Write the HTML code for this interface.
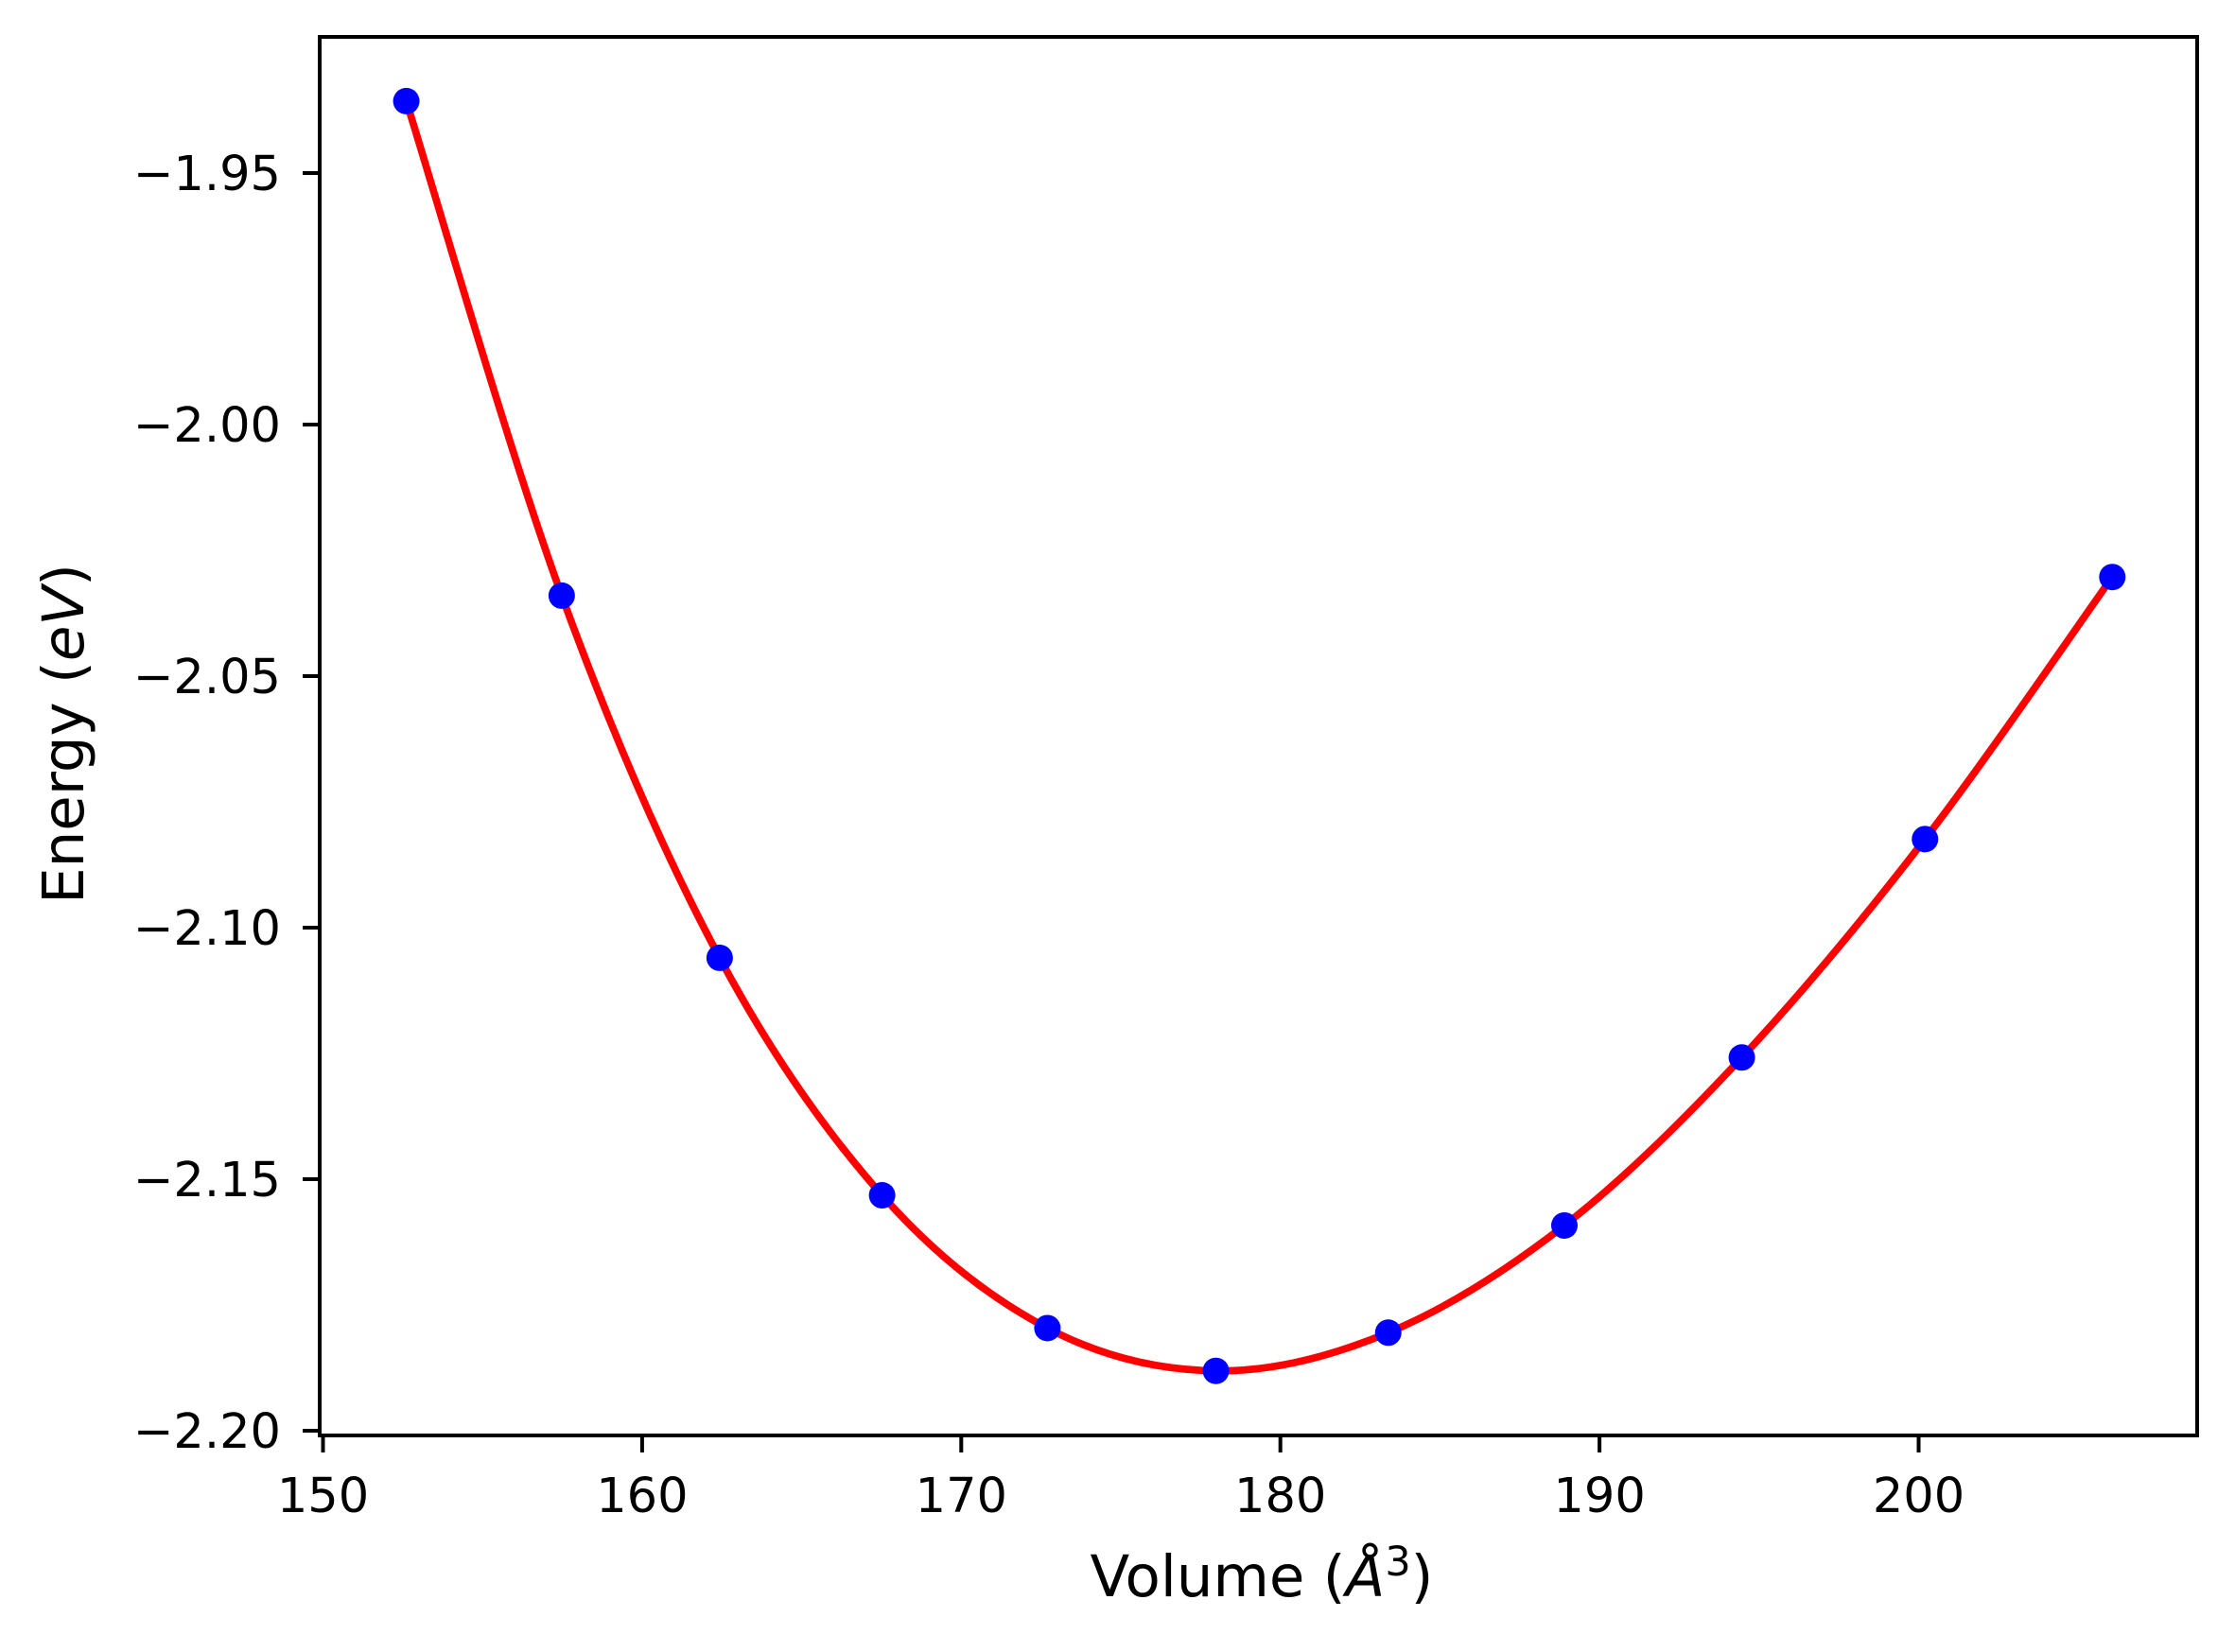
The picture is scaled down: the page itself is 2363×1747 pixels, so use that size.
<!DOCTYPE html>
<html><head><meta charset="utf-8"><style>
html,body{margin:0;padding:0;background:#fff;}
svg{display:block;font-family:"DejaVu Sans","Liberation Sans",sans-serif;}
</style></head><body>
<svg id="chart" width="2363" height="1747" viewBox="0 0 2363 1747" xmlns="http://www.w3.org/2000/svg">
<rect x="0" y="0" width="2363" height="1747" fill="#fff"/>
<g id="plot"></g>
<g id="axes"></g>
<text x="1334" y="1688" font-size="61" text-anchor="middle">Volume (<tspan font-style="italic">Å</tspan><tspan font-size="43" dy="-22">3</tspan><tspan dy="22">)</tspan></text>
<text transform="translate(88,776) rotate(-90)" font-size="61" text-anchor="middle">Energy (<tspan font-style="italic">eV</tspan>)</text>
</svg>
<script>
const volumes = [152.61, 157.48, 162.43, 167.52, 172.70, 177.98, 183.38, 188.90, 194.46, 200.20, 206.07];
const energies = [-1.9357, -2.0340, -2.1060, -2.1532, -2.1796, -2.1881, -2.1805, -2.1592, -2.1258, -2.0824, -2.0303];
const xTicks = [150, 160, 170, 180, 190, 200];
const yTicks = [-1.95, -2.00, -2.05, -2.10, -2.15, -2.20];
const yTickLabels = ["\u22121.95", "\u22122.00", "\u22122.05", "\u22122.10", "\u22122.15", "\u22122.20"];

const L = 338, R = 2323, T = 39, B = 1518;
const xScale = v => 341.5 + (v - 150) * 33.74;
const yScale = e => 183 + (-1.95 - e) * 5320;
const NS = "http://www.w3.org/2000/svg";
const plot = document.getElementById('plot');
const axes = document.getElementById('axes');

// smooth curve (Catmull-Rom through data)
const pts = volumes.map((v, i) => [xScale(v), yScale(energies[i])]);
let d = `M${pts[0][0]},${pts[0][1]}`;
for (let i = 0; i < pts.length - 1; i++) {
  const p0 = pts[Math.max(0, i - 1)], p1 = pts[i], p2 = pts[i + 1], p3 = pts[Math.min(pts.length - 1, i + 2)];
  const c1 = [p1[0] + (p2[0] - p0[0]) / 6, p1[1] + (p2[1] - p0[1]) / 6];
  const c2 = [p2[0] - (p3[0] - p1[0]) / 6, p2[1] - (p3[1] - p1[1]) / 6];
  d += ` C${c1[0]},${c1[1]} ${c2[0]},${c2[1]} ${p2[0]},${p2[1]}`;
}
const curve = document.createElementNS(NS, 'path');


curve.setAttribute('d', d);
curve.setAttribute('fill', 'none');
curve.setAttribute('stroke', '#ff0000');
curve.setAttribute('stroke-width', '7.7');
plot.appendChild(curve);

volumes.forEach((v, i) => {
  const c = document.createElementNS(NS, 'circle');
  
  
  c.setAttribute('cx', xScale(v));
  c.setAttribute('cy', yScale(energies[i]));
  c.setAttribute('r', '14');
  c.setAttribute('fill', '#0000ff');
  plot.appendChild(c);
});

const frame = document.createElementNS(NS, 'rect');


frame.setAttribute('x', L); frame.setAttribute('y', T);
frame.setAttribute('width', R - L); frame.setAttribute('height', B - T);
frame.setAttribute('fill', 'none'); frame.setAttribute('stroke', '#000'); frame.setAttribute('stroke-width', '4');
axes.appendChild(frame);

xTicks.forEach(t => {
  const x = xScale(t);
  const ln = document.createElementNS(NS, 'line');
  
  
  ln.setAttribute('x1', x); ln.setAttribute('x2', x);
  ln.setAttribute('y1', B); ln.setAttribute('y2', B + 18);
  ln.setAttribute('stroke', '#000'); ln.setAttribute('stroke-width', '4');
  axes.appendChild(ln);
  const tx = document.createElementNS(NS, 'text');
  
  
  tx.setAttribute('x', x); tx.setAttribute('y', 1599);
  tx.setAttribute('font-size', '51'); tx.setAttribute('text-anchor', 'middle');
  tx.textContent = String(t);
  axes.appendChild(tx);
});

yTicks.forEach((t, i) => {
  const y = yScale(t);
  const ln = document.createElementNS(NS, 'line');
  
  
  ln.setAttribute('x1', L - 18); ln.setAttribute('x2', L);
  ln.setAttribute('y1', y); ln.setAttribute('y2', y);
  ln.setAttribute('stroke', '#000'); ln.setAttribute('stroke-width', '4');
  axes.appendChild(ln);
  const tx = document.createElementNS(NS, 'text');
  
  
  tx.setAttribute('x', 297); tx.setAttribute('y', y + 18);
  tx.setAttribute('font-size', '51'); tx.setAttribute('text-anchor', 'end');
  tx.textContent = yTickLabels[i];
  axes.appendChild(tx);
});
</script>
</body></html>
